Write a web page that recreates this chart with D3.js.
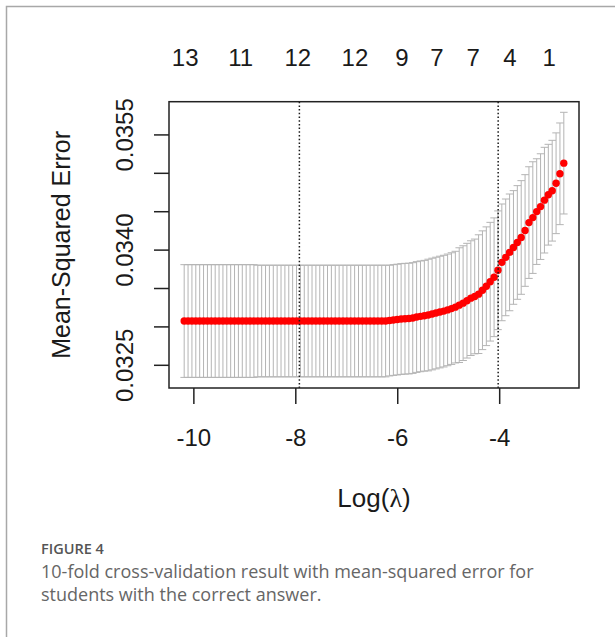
<!DOCTYPE html>
<html>
<head>
<meta charset="utf-8">
<script src="https://cdn.jsdelivr.net/npm/d3@7/dist/d3.min.js"></script>
<style>
  body { margin: 0; background: #fff; }
  svg { display: block; }
</style>
</head>
<body>
<script>
// cv.glmnet curve
var logLambda = [
  -10.180, -10.104, -10.028, -9.952, -9.876, -9.800, -9.724, -9.648, -9.572, -9.496,
  -9.420, -9.344, -9.268, -9.192, -9.116, -9.040, -8.964, -8.888, -8.812, -8.736,
  -8.660, -8.584, -8.508, -8.432, -8.356, -8.280, -8.204, -8.128, -8.052, -7.976,
  -7.900, -7.824, -7.748, -7.672, -7.596, -7.520, -7.444, -7.368, -7.292, -7.216,
  -7.140, -7.064, -6.988, -6.912, -6.836, -6.760, -6.684, -6.608, -6.532, -6.456,
  -6.380, -6.304, -6.228, -6.152, -6.076, -6.000, -5.924, -5.848, -5.772, -5.696,
  -5.620, -5.544, -5.468, -5.392, -5.316, -5.240, -5.164, -5.088, -5.012, -4.936,
  -4.860, -4.784, -4.708, -4.632, -4.556, -4.480, -4.404, -4.328, -4.252, -4.176,
  -4.100, -4.024, -3.948, -3.872, -3.796, -3.720, -3.644, -3.568, -3.492, -3.416,
  -3.340, -3.264, -3.188, -3.112, -3.036, -2.960, -2.884, -2.808, -2.732
]

var cvm = [
  0.03307, 0.03307, 0.03307, 0.03307, 0.03307, 0.03307, 0.03307, 0.03307, 0.03307, 0.03307,
  0.03307, 0.03307, 0.03307, 0.03307, 0.03307, 0.03307, 0.03307, 0.03307, 0.03307, 0.03307,
  0.03307, 0.03307, 0.03307, 0.03307, 0.03307, 0.03307, 0.03307, 0.03307, 0.03307, 0.03307,
  0.03307, 0.03307, 0.03307, 0.03307, 0.03307, 0.03307, 0.03307, 0.03307, 0.03307, 0.03307,
  0.03307, 0.03307, 0.03307, 0.03307, 0.03307, 0.03307, 0.03307, 0.03307, 0.03307, 0.03307,
  0.03307, 0.03307, 0.03307, 0.033076, 0.033083, 0.033089, 0.033096, 0.033100, 0.033102, 0.033109,
  0.033122, 0.033131, 0.033139, 0.033148, 0.033161, 0.033174, 0.033187, 0.033199, 0.033215, 0.033232,
  0.033251, 0.033277, 0.033303, 0.033335, 0.033368, 0.033390, 0.033420, 0.033471, 0.033523, 0.033582,
  0.033640, 0.033731, 0.033834, 0.033899, 0.033964, 0.034028, 0.034093, 0.034158, 0.034249, 0.034352,
  0.034417, 0.034495, 0.034560, 0.034644, 0.034715, 0.034767, 0.034864, 0.034987, 0.035126
]

var cvsd = [
  0.000734, 0.000734, 0.000734, 0.000734, 0.000734, 0.000734, 0.000734, 0.000734, 0.000734, 0.000734,
  0.000734, 0.000734, 0.000734, 0.000734, 0.000734, 0.000734, 0.000734, 0.000734, 0.000734, 0.000727,
  0.000727, 0.000727, 0.000727, 0.000727, 0.000727, 0.000727, 0.000727, 0.000727, 0.000727, 0.000727,
  0.000727, 0.000727, 0.000727, 0.000727, 0.000727, 0.000727, 0.000727, 0.000727, 0.000727, 0.000727,
  0.000727, 0.000727, 0.000727, 0.000727, 0.000727, 0.000727, 0.000727, 0.000727, 0.000727, 0.000727,
  0.000727, 0.000727, 0.000727, 0.000721, 0.000721, 0.000721, 0.000721, 0.000721, 0.000721, 0.000721,
  0.000721, 0.000721, 0.000721, 0.000727, 0.000727, 0.000727, 0.000727, 0.000727, 0.000727, 0.000727,
  0.000727, 0.000747, 0.000747, 0.000747, 0.000747, 0.000747, 0.000773, 0.000773, 0.000773, 0.000773,
  0.000773, 0.000773, 0.000760, 0.000760, 0.000760, 0.000740, 0.000740, 0.000740, 0.000727, 0.000727,
  0.000727, 0.000688, 0.000688, 0.000688, 0.000656, 0.000656, 0.000656, 0.000662, 0.000662
]

var lambdaMin = -7.92
var lambda1se = -4.02

var xTicks = [-10, -8, -6, -4]
var yTicks = [0.0325, 0.0330, 0.0335, 0.0340, 0.0345, 0.0350, 0.0355]
var yTickLabels = ['0.0325', '', '', '0.0340', '', '', '0.0355']

// number of nonzero coefficients along the top
var nzeroAt = [-10.16, -9.07, -7.95, -6.83, -5.91, -5.22, -4.51, -3.79, -3.02]
var nzeroLabels = ['13', '11', '12', '12', '9', '7', '7', '4', '1']

var captionTitle = 'FIGURE 4'
var captionLines = [
  '10-fold cross-validation result with mean-squared error for',
  'students with the correct answer.'
]

var W = 615, H = 637
var box = { left: 169, right: 579, top: 101.7, bottom: 388 }
var rFont = '"Liberation Sans", Arial, sans-serif'
var ink = '#1a1a1a'

// R pads the data range by 4% on each side
function pad(ext) {
  var d = (ext[1] - ext[0]) * 0.04
  return [ext[0] - d, ext[1] + d]
}

var cvup = cvm.map(function(m, i) { return m + cvsd[i] })
var cvlo = cvm.map(function(m, i) { return m - cvsd[i] })

var x = d3.scaleLinear()
  .domain(pad(d3.extent(logLambda)))
  .range([box.left, box.right])

var y = d3.scaleLinear()
  .domain(pad([d3.min(cvlo), d3.max(cvup)]))
  .range([box.bottom, box.top])

var svg = d3.select('body')
  .append('svg')
  .attr('width', W)
  .attr('height', H)

svg.append('rect')
  .attr('width', W)
  .attr('height', H)
  .style('fill', '#fff')

// card border (top and left)
svg.append('path')
  .attr('d', 'M6.5,' + H + 'V6.5H' + W)
  .style('fill', 'none')
  .style('stroke', '#a8a8a8')
  .style('stroke-width', 1.5)

var data = logLambda.map(function(l, i) {
  return { l: l, m: cvm[i], up: cvup[i], lo: cvlo[i] }
})

// error bars
var capW = (d3.max(logLambda) - d3.min(logLambda)) * 0.01
var bars = svg.append('g')
  .style('stroke', '#b4b4b4')
  .style('stroke-width', 1)

bars.selectAll('.bar')
  .data(data)
  .enter()
  .append('line')
  .classed('bar', true)
  .attr('x1', function(d) { return x(d.l) })
  .attr('x2', function(d) { return x(d.l) })
  .attr('y1', function(d) { return y(d.up) })
  .attr('y2', function(d) { return y(d.lo) })

bars.selectAll('.capUp')
  .data(data)
  .enter()
  .append('line')
  .classed('capUp', true)
  .attr('x1', function(d) { return x(d.l - capW) })
  .attr('x2', function(d) { return x(d.l + capW) })
  .attr('y1', function(d) { return y(d.up) })
  .attr('y2', function(d) { return y(d.up) })

bars.selectAll('.capLo')
  .data(data)
  .enter()
  .append('line')
  .classed('capLo', true)
  .attr('x1', function(d) { return x(d.l - capW) })
  .attr('x2', function(d) { return x(d.l + capW) })
  .attr('y1', function(d) { return y(d.lo) })
  .attr('y2', function(d) { return y(d.lo) })

// mean points
svg.append('g')
  .selectAll('circle')
  .data(data)
  .enter()
  .append('circle')
  .attr('cx', function(d) { return x(d.l) })
  .attr('cy', function(d) { return y(d.m) })
  .attr('r', 3.7)
  .style('fill', '#ff0000')

// dotted lambda lines
svg.append('g')
  .selectAll('line')
  .data([lambdaMin, lambda1se])
  .enter()
  .append('line')
  .attr('x1', function(d) { return x(d) })
  .attr('x2', function(d) { return x(d) })
  .attr('y1', box.top)
  .attr('y2', box.bottom)
  .style('stroke', ink)
  .style('stroke-width', 1.5)
  .style('stroke-dasharray', '1.5,2.2')

// plot box
svg.append('rect')
  .attr('x', box.left)
  .attr('y', box.top)
  .attr('width', box.right - box.left)
  .attr('height', box.bottom - box.top)
  .style('fill', 'none')
  .style('stroke', '#222')
  .style('stroke-width', 1.5)

// axes
var xAxis = svg.append('g')
  .attr('transform', 'translate(0,' + box.bottom + ')')
  .call(d3.axisBottom(x)
    .tickValues(xTicks)
    .tickSize(16)
    .tickPadding(25)
    .tickFormat(function(d) { return String(d) }))
xAxis.select('.domain').remove()

var yAxis = svg.append('g')
  .attr('transform', 'translate(' + box.left + ',0)')
  .call(d3.axisLeft(y)
    .tickValues(yTicks)
    .tickSize(15)
    .tickFormat(function(d, i) { return yTickLabels[i] }))
yAxis.select('.domain').remove()

yAxis.selectAll('text')
  .attr('transform', 'rotate(-90)')
  .attr('x', 0)
  .attr('y', -36)
  .attr('dy', 0)
  .attr('text-anchor', 'middle')

svg.selectAll('.tick line')
  .style('stroke', '#222')
  .style('stroke-width', 1.5)

svg.selectAll('.tick text')
  .style('fill', ink)
  .style('font-family', rFont)
  .style('font-size', '24px')

// top labels
svg.append('g')
  .selectAll('text')
  .data(nzeroAt)
  .enter()
  .append('text')
  .attr('x', function(d) { return x(d) })
  .attr('y', 66)
  .attr('text-anchor', 'middle')
  .style('font-family', rFont)
  .style('font-size', '24px')
  .style('fill', ink)
  .text(function(d, i) { return nzeroLabels[i] })

// axis titles
var xTitle = svg.append('text')
  .attr('x', (box.left + box.right) / 2)
  .attr('y', 507)
  .attr('text-anchor', 'middle')
  .style('font-family', rFont)
  .style('font-size', '26px')
  .style('fill', ink)
xTitle.append('tspan').text('Log(')
xTitle.append('tspan')
  .style('font-family', '"Liberation Serif", "DejaVu Serif", serif')
  .text('λ')
xTitle.append('tspan').text(')')

svg.append('text')
  .attr('transform', 'translate(70,' + (box.top + box.bottom) / 2 + ') rotate(-90)')
  .attr('text-anchor', 'middle')
  .style('font-family', rFont)
  .style('font-size', '25px')
  .style('fill', ink)
  .text('Mean-Squared Error')

// caption
svg.append('text')
  .attr('x', 41)
  .attr('y', 554)
  .style('font-family', '"Open Sans", sans-serif')
  .style('font-size', '14.5px')
  .style('font-weight', 600)
  .style('fill', '#555')
  .text(captionTitle)

svg.append('g')
  .selectAll('text')
  .data(captionLines)
  .enter()
  .append('text')
  .attr('x', 41)
  .attr('y', function(d, i) { return 578 + i * 23 })
  .style('font-family', '"Open Sans", sans-serif')
  .style('font-size', '18px')
  .style('fill', '#666')
  .text(function(d) { return d })
</script>
</body>
</html>
